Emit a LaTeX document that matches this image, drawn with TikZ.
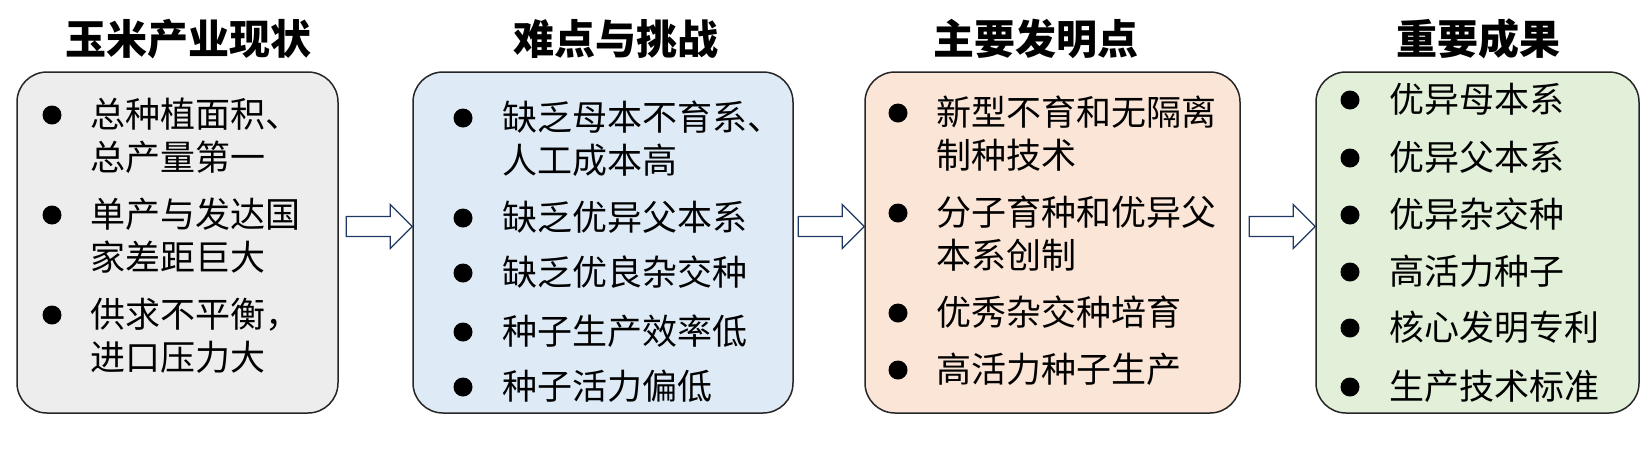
\documentclass[tikz,border=0pt]{standalone}
\usepackage{fontspec}
\setmainfont{Noto Sans CJK SC}
\usetikzlibrary{calc}

\definecolor{boxgray}{HTML}{EDEDED}
\definecolor{boxblue}{HTML}{DEEBF7}
\definecolor{boxorange}{HTML}{FBE5D6}
\definecolor{boxgreen}{HTML}{E2F0D9}
\definecolor{arrowblue}{HTML}{203864}

\tikzset{
    box/.style={draw=black!85, line width=1.5pt, rounded corners=30pt,
        minimum width=#1, minimum height=341pt, inner sep=0pt},
    heading/.style={inner sep=0pt, font=\fontsize{41}{41}\selectfont\bfseries},
    item/.style={anchor=base west, inner sep=0pt, font=\fontsize{35}{43}\selectfont},
    dot/.style={circle, fill=black, minimum size=19pt, inner sep=0pt},
    blockarrow/.style={draw=arrowblue, line width=1.3pt, fill=white, line join=miter}
}

% hollow arrow ending at the left side of the next box
\newcommand\flowarrow[2]{%
    \draw[blockarrow] let \p1=(#1.east), \p2=(#2.west) in
        (\x2-66,\y2+26) -- (\x2-22,\y2+26) -- (\x2-22,\y2+38) -- (\x2,\y2+16)
        -- (\x2-22,\y2-6) -- (\x2-22,\y2+6) -- (\x2-66,\y2+6) -- cycle;}

\begin{document}
\begin{tikzpicture}[x=1pt, y=1pt]
    \useasboundingbox (0,0) rectangle (1652,-448);

    \node[box=321pt, fill=boxgray]   (b1) at (177.5,-242.5) {};
    \node[box=380pt, fill=boxblue]   (b2) at (603,-242.5) {};
    \node[box=375pt, fill=boxorange] (b3) at (1052.5,-242.5) {};
    \node[box=323pt, fill=boxgreen]  (b4) at (1477.5,-242.5) {};

    \node[heading] (t1) at (188,-39) {玉米产业现状};
    \node[heading] (t2) at (616,-39) {难点与挑战};
    \node[heading] (t3) at (1036,-39) {主要发明点};
    \node[heading] (t4) at (1478,-39) {重要成果};

    % items
    \foreach \y/\txt [count=\i] in {115/{总种植面积、\\总产量第一},
            215/{单产与发达国\\家差距巨大}, 315/{供求不平衡，\\进口压力大}}{
        \node[dot] (b1d\i) at (52,-\y) {};
        \node[item] (b1i\i) at (90,-\y-12) {\parbox[t]{300pt}{\txt}};
    }
    \foreach \y/\txt [count=\i] in {118/{缺乏母本不育系、\\人工成本高},
            218/缺乏优异父本系, 273/缺乏优良杂交种, 332/种子生产效率低, 387/种子活力偏低}{
        \node[dot] (b2d\i) at (463,-\y) {};
        \node[item] (b2i\i) at (502,-\y-12) {\parbox[t]{300pt}{\txt}};
    }
    \foreach \y/\txt [count=\i] in {113/{新型不育和无隔离\\制种技术},
            213/{分子育种和优异父\\本系创制}, 313/优秀杂交种培育, 370/高活力种子生产}{
        \node[dot] (b3d\i) at (898,-\y) {};
        \node[item] (b3i\i) at (936,-\y-12) {\parbox[t]{300pt}{\txt}};
    }
    \foreach \y/\txt [count=\i] in {100/优异母本系, 158/优异父本系, 215/优异杂交种,
            272/高活力种子, 328/核心发明专利, 387/生产技术标准}{
        \node[dot] (b4d\i) at (1350,-\y) {};
        \node[item] (b4i\i) at (1389,-\y-12) {\parbox[t]{300pt}{\txt}};
    }

    \flowarrow{b1}{b2}
    \flowarrow{b2}{b3}
    \flowarrow{b3}{b4}
\end{tikzpicture}
\end{document}
